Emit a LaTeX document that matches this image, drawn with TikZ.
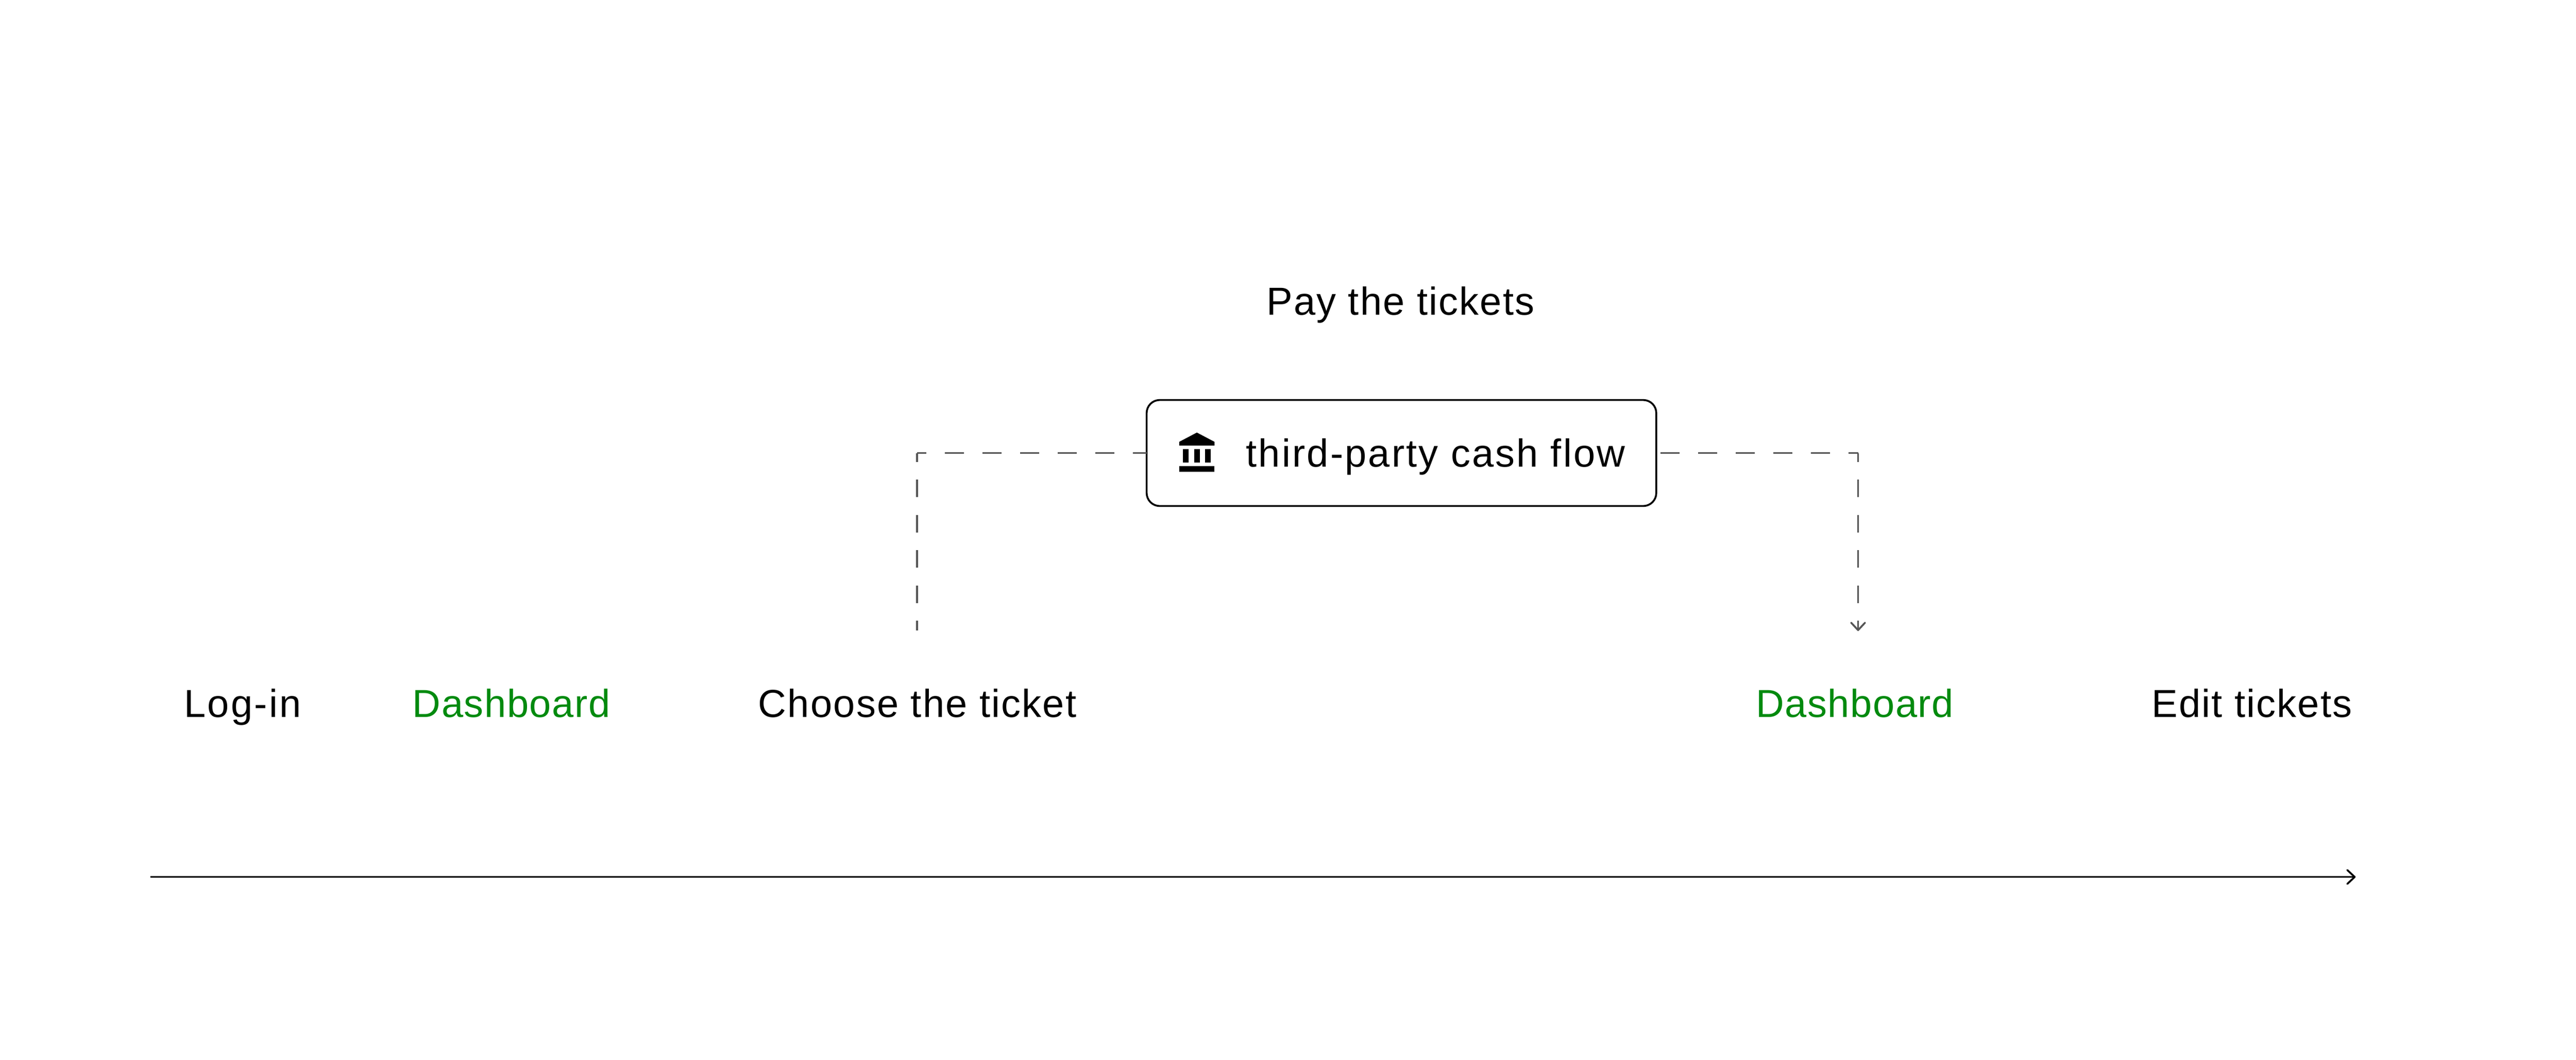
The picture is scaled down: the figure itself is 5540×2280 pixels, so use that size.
\documentclass[tikz,border=0pt]{standalone}
\usepackage{fontspec}
\usepackage{tikz}
\usetikzlibrary{arrows.meta}
\setmainfont{Liberation Sans}
\definecolor{flowgreen}{HTML}{008A0E}
\definecolor{flowgray}{HTML}{555555}
\tikzset{
	steplabel/.style={inner sep=0pt,outer sep=0pt,anchor=base,font=\fontsize{84}{100}\selectfont\addfontfeature{LetterSpace=#1}},
	steplabel/.default=3.0,
	flowtip/.style={-{Straight Barb[length=16pt,width=30pt,round]}},
	flowline/.style={draw=flowgray,line width=4pt},
	hdash/.style={dash pattern=on 41pt off 40pt,dash phase=21pt},
	vdash/.style={dash pattern=on 38pt off 38pt,dash phase=19pt},
}
\begin{document}
\begin{tikzpicture}[x=1pt,y=-1pt]
	\useasboundingbox (0,1.5) rectangle (5540,2281.5);

	\node[steplabel](pay) at (3012,679) {Pay the tickets};
	\node[draw,line width=4pt,rounded corners=28pt,inner sep=0pt,outer sep=0pt,minimum width=1096pt,minimum height=228pt](cash) at (3014,976) {};
	\node[steplabel=4.2,anchor=base west](cashtext) at (2680,1006) {third-party cash flow};

	\fill (2536,960) -- (2536,952) -- (2574,932) -- (2612,952) -- (2612,960) -- cycle;
	\fill (2544,968) rectangle (2556,996);
	\fill (2568,968) rectangle (2580,996);
	\fill (2592,968) rectangle (2604,996);
	\fill (2536,1004) rectangle (2612,1016);

	\node[steplabel=4.4](login) at (522,1544) {Log-in};
	\node[steplabel=2.1,text=flowgreen](dashone) at (1100,1544) {Dashboard};
	\node[steplabel](choose) at (1973,1544) {Choose the ticket};
	\node[steplabel=2.1,text=flowgreen](dashtwo) at (3989,1544) {Dashboard};
	\node[steplabel](edit) at (4843,1544) {Edit tickets};

	\coordinate (cornerl) at (1972,976);
	\coordinate (cornerr) at (3996,976);
	\coordinate (endl) at (1972,1358);
	\coordinate (endr) at (3996,1359);
	\coordinate (axisl) at (324,1888);
	\coordinate (axisr) at (5066,1888);

	\draw[flowline,hdash] (cornerl) -- (cash.west);
	\draw[flowline,vdash] (cornerl) -- (endl);
	\draw[flowline,hdash] (cornerr) -- (cash.east);
	\draw[flowline,vdash,flowtip] (cornerr) -- (endr);
	\draw[line width=4pt,flowtip] (axisl) -- (axisr);
\end{tikzpicture}
\end{document}
